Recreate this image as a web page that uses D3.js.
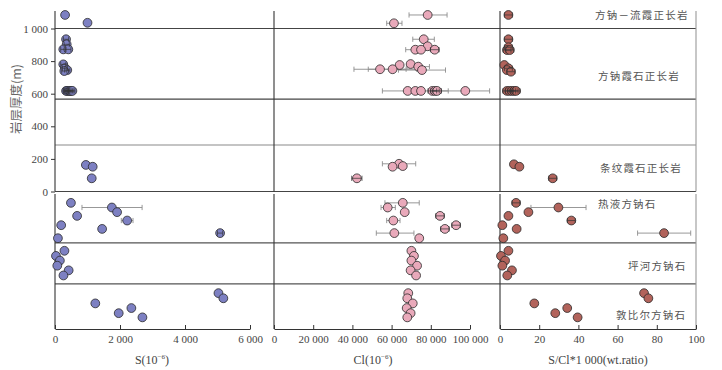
<!DOCTYPE html>
<html><head><meta charset="utf-8">
<script src="https://cdn.jsdelivr.net/npm/d3@7"></script>
<style>
html,body{margin:0;padding:0;background:#fff;}
svg{display:block;}
</style></head>
<body><svg id="chart" width="722" height="370"></svg>
<script>
// ---------------- DATA ----------------
const depthTicks = [0, 200, 400, 600, 800, 1000];
const sTicks = [0, 2000, 4000, 6000];
const clTicks = [0, 20000, 40000, 60000, 80000, 100000];
const ratioTicks = [0, 20, 40, 60, 80, 100];
const groupNames = ["方钠－流霞正长岩", "方钠霞石正长岩", "条纹霞石正长岩", "热液方钠石", "坪河方钠石", "敦比尔方钠石"];
const topBoundaries = [1000, 567, 285, 0];   // thickness (m)
const lowBoundaries = [10.5, 19.3];          // sample order
// [thickness, value, errLow, errHigh]
const sTop = [
  [1083, 310], [1035, 1000],
  [934, 340, 260, 420], [903, 360, 280, 440], [872, 255, 175, 335], [872, 410, 330, 490],
  [780, 255, 175, 335], [756, 308, 228, 388], [745, 378, 298, 458], [739, 286, 206, 366],
  [617, 340, 260, 420], [617, 380, 300, 460], [617, 420, 340, 500], [617, 460, 380, 540], [617, 500, 420, 580], [617, 535, 455, 615],
  [163, 950], [152, 1160], [81, 1130]
];
const clTop = [
  [1083, 78400, 68900, 88300], [1032, 61200, 57500, 65300],
  [934, 76400, 70800, 81800], [891, 78400], [870, 72100], [870, 75000, 67200, 84000], [870, 82000, 79800, 84200],
  [782, 69700], [776, 64100], [766, 73600, 67900, 79300], [750, 54100, 40800, 67400], [750, 60500, 48100, 72900], [745, 75500, 63500, 87500],
  [617, 68200], [617, 72100, 55300, 88900], [617, 75000], [617, 80800, 78600, 83000], [617, 82100, 79900, 84300], [617, 83200, 81000, 85400], [617, 97600, 85200, 110000],
  [170, 63800, 55300, 72300], [152, 60500], [156, 65700], [81, 42300, 39600, 44900]
];
const ratioTop = [
  [1083, 4.3, 2.3, 6.3],
  [934, 4.3, 2.3, 6.3], [885, 4.3, 2.3, 6.3], [868, 3.6, 1.6, 5.6], [868, 5.0, 3.0, 7.0],
  [776, 2.2], [756, 4.3, 2.3, 6.3], [745, 3.5], [735, 5.6, 3.6, 7.6],
  [617, 3.5, 1.5, 5.5], [617, 4.8, 2.8, 6.8], [617, 6.0, 4.0, 8.0], [617, 7.2, 5.2, 9.2], [617, 8.2, 6.2, 10.2],
  [167, 7.1], [152, 9.9], [81, 26.9, 24.9, 28.9]
];
// [sample order, value, errLow, errHigh]
const sLow = [
  [1.9, 490], [2.9, 1750, 830, 2680], [3.9, 1910], [4.7, 680], [5.7, 2220, 2040, 2400], [6.7, 190], [7.5, 1450], [8.4, 5080, 5000, 5160], [9.5, 90],
  [12.2, 290], [13.3, 30], [14.3, 150], [15.4, 70], [16.4, 420], [17.5, 260],
  [21.3, 5030], [22.4, 5180], [23.5, 1240], [24.5, 2350], [25.6, 1960], [26.5, 2690]
];
const clLow = [
  [1.9, 65700, 56600, 74100], [2.9, 58000, 54600, 61900], [3.9, 66700], [4.7, 84700, 82500, 86900], [5.7, 60900, 57500, 64300],
  [6.7, 92900, 90700, 95100], [7.5, 87200, 85000, 89400], [8.4, 61400, 52200, 71400], [9.5, 74100],
  [12.2, 70100], [13.3, 71400], [14.3, 70100], [15.4, 73000], [16.4, 69700], [17.5, 72500],
  [21.3, 68500], [22.4, 68000], [23.5, 70800], [24.5, 67700], [25.6, 69700], [26.5, 68000]
];
const ratioLow = [
  [1.9, 8.2, 6.2, 10.2], [2.9, 29.8, 15.8, 43.9], [3.9, 14.5], [4.7, 4.3], [5.7, 36.4, 34.4, 38.4], [6.7, 1.2], [7.5, 8.5], [8.4, 83.7, 70.2, 97.3], [9.5, 1.7],
  [12.2, 4.3], [13.3, 0.5], [14.3, 2.6], [15.4, 1.2], [16.4, 6.1], [17.5, 3.7],
  [21.3, 73.5], [22.4, 75.7], [23.5, 17.5], [24.5, 34.3], [25.6, 28.2], [26.5, 39.6]
];

// ---------------- LAYOUT ----------------
const svg = d3.select("#chart");
const W = 722, H = 370;
const topY0 = 11, topY1 = 191.5, lowY0 = 194, lowY1 = 329;
const panelEdges = [55, 274, 500, 696];
const serif = "'Liberation Serif','Times New Roman',serif";
const cjk = "'Noto Sans CJK SC','Noto Sans CJK JP',sans-serif";
const R = 4.4;

const xS = d3.scaleLinear().domain([0, 6000]).range([55, 250]);
const xCl = d3.scaleLinear().domain([0, 100000]).range([274, 470]);
const xR = d3.scaleLinear().domain([0, 100]).range([500, 696]);
const yTop = d3.scaleLinear().domain([0, 1000]).range([topY1, 28.5]);
const yLow = d3.scaleLinear().domain([0, 29]).range([lowY0, lowY1]);

const loc = d3.formatLocale({decimal: ".", thousands: " ", grouping: [3], currency: ["", ""]});
const fmt = loc.format(",");

// frame: horizontal boundaries
const gFrame = svg.append("g");
gFrame.selectAll("line.hb").data(topBoundaries).join("line")
  .attr("x1", 55).attr("x2", 696)
  .attr("y1", d => yTop(d)).attr("y2", d => yTop(d))
  .attr("stroke", (d, i) => i === 2 ? "#8a8a8a" : "#444").attr("stroke-width", 1.1);
gFrame.selectAll("line.lb").data(lowBoundaries).join("line")
  .attr("x1", 55).attr("x2", 696)
  .attr("y1", d => yLow(d)).attr("y2", d => yLow(d))
  .attr("stroke", "#555").attr("stroke-width", 1.1);
// verticals
panelEdges.forEach((x, i) => {
  [[topY0, topY1], [lowY0, lowY1]].forEach(([a, b]) => {
    gFrame.append("line").attr("x1", x).attr("x2", x).attr("y1", a).attr("y2", b)
      .attr("stroke", i === 3 ? "#999" : "#333").attr("stroke-width", 1.1);
  });
});

// left axis
const gL = svg.append("g").attr("transform", "translate(55,0)")
  .call(d3.axisLeft(yTop).tickValues(depthTicks).tickFormat(fmt).tickSizeInner(4).tickSizeOuter(0).tickPadding(3));
gL.select(".domain").remove();
gL.selectAll(".tick line").attr("stroke", "#333");
gL.selectAll("text").attr("font-family", serif).attr("font-size", 11).attr("fill", "#444");

// bottom axes
[[xS, sTicks], [xCl, clTicks], [xR, ratioTicks]].forEach(([sc, tv]) => {
  const g = svg.append("g").attr("transform", `translate(0,${lowY1})`)
    .call(d3.axisBottom(sc).tickValues(tv).tickFormat(fmt).tickSizeInner(-4).tickSizeOuter(0).tickPadding(6));
  g.select(".domain").attr("stroke", "#333").attr("stroke-width", 1.1);
  g.selectAll(".tick line").attr("stroke", "#333");
  g.selectAll("text").attr("font-family", serif).attr("font-size", 11).attr("fill", "#444");
});

// points
function drawSet(data, xs, ys, fill) {
  const g = svg.append("g");
  const withErr = data.filter(d => d[2] != null);
  const big = withErr.filter(d => (xs(d[3]) - xs(d[2])) / 2 > R + 1);
  const small = withErr.filter(d => (xs(d[3]) - xs(d[2])) / 2 <= R + 1);
  function bars(sel, col, w) {
    sel.append("line").attr("x1", d => xs(d[2])).attr("x2", d => xs(d[3]))
      .attr("y1", d => ys(d[0])).attr("y2", d => ys(d[0])).attr("stroke", col).attr("stroke-width", w);
    sel.append("line").attr("x1", d => xs(d[2])).attr("x2", d => xs(d[2]))
      .attr("y1", d => ys(d[0]) - 2.6).attr("y2", d => ys(d[0]) + 2.6).attr("stroke", col).attr("stroke-width", w);
    sel.append("line").attr("x1", d => xs(d[3])).attr("x2", d => xs(d[3]))
      .attr("y1", d => ys(d[0]) - 2.6).attr("y2", d => ys(d[0]) + 2.6).attr("stroke", col).attr("stroke-width", w);
  }
  bars(g.selectAll("g.eb").data(big).join("g"), "#8c8c8c", 0.9);
  g.selectAll("circle").data(data).join("circle")
    .attr("cx", d => xs(d[1])).attr("cy", d => ys(d[0])).attr("r", R)
    .attr("fill", fill).attr("stroke", "#2a2a2a").attr("stroke-width", 0.8);
  bars(g.selectAll("g.es").data(small).join("g"), "#333", 0.7);
}
const cS = "#7d80c2", cCl = "#e9a9ba", cR = "#b2635b";
drawSet(sTop, xS, yTop, cS);
drawSet(clTop, xCl, yTop, cCl);
drawSet(ratioTop, xR, yTop, cR);
drawSet(sLow, xS, yLow, cS);
drawSet(clLow, xCl, yLow, cCl);
drawSet(ratioLow, xR, yLow, cR);

// group labels
const labelPos = [[595, 15], [598, 76.5], [600, 168.5], [598, 204], [628, 266], [616, 315]];
svg.append("g").selectAll("text").data(groupNames).join("text")
  .attr("x", (d, i) => labelPos[i][0]).attr("y", (d, i) => labelPos[i][1])
  .attr("dy", "0.36em").attr("font-family", cjk).attr("font-size", 10.5)
  .attr("letter-spacing", "1.2px").attr("fill", "#555").text(d => d);

// y title
svg.append("text").attr("transform", "translate(16,99) rotate(-90)")
  .attr("text-anchor", "middle").attr("dy", "0.36em")
  .attr("font-family", cjk).attr("font-size", 12.5).attr("fill", "#666").text("岩层厚度(m)");

// x titles
function xTitle(cx, pre, post) {
  const t = svg.append("text").attr("x", cx).attr("y", 364).attr("text-anchor", "middle")
    .attr("font-family", serif).attr("font-size", 12).attr("fill", "#444");
  t.append("tspan").text(pre);
  if (post != null) {
    t.append("tspan").text("(10");
    t.append("tspan").attr("dy", -5).attr("font-size", 7).text("−6");
    t.append("tspan").attr("dy", 5).text(")");
  }
}
xTitle(152, "S", true);
xTitle(373, "Cl", true);
xTitle(598, "S/Cl*1 000(wt.ratio)", null);
</script></body></html>
